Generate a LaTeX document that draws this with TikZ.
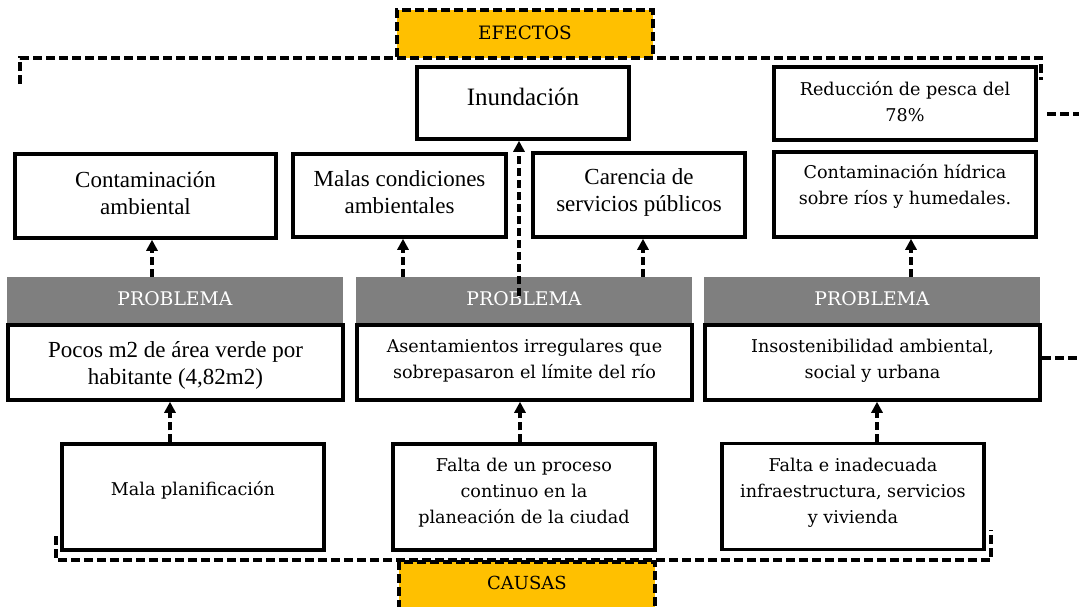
\documentclass[tikz,border=0pt]{standalone}
\usepackage{fontspec}
\setmainfont{Liberation Serif}
\newfontfamily\cmbfont{DejaVu Serif}
\usetikzlibrary{arrows.meta}
\definecolor{ambar}{HTML}{FFC000}
\definecolor{gris}{HTML}{7F7F7F}
\begin{document}
\begin{tikzpicture}[x=1pt,y=-1pt,
 box/.style={draw=black, line width=3.5pt, fill=white, inner sep=0pt},
 bar/.style={fill=gris, draw=none, inner sep=0pt},
 tag/.style={fill=ambar, draw=black, line width=3.2pt, dash pattern=on 9pt off 4pt, inner sep=0pt},
 dline/.style={line width=3.2pt, dash pattern=on 9pt off 4pt},
 arr/.style={line width=3.2pt, dash pattern=on 8pt off 4pt, -{Triangle[width=11pt,length=11pt]}},
 tms/.style={font=\fontsize{23}{27}\selectfont, align=center, inner sep=0pt},
 cmb/.style={font=\cmbfont\fontsize{17.6}{26}\selectfont, align=center, inner sep=0pt},
 ptxt/.style={font=\cmbfont\fontsize{18.8}{26}\selectfont, text=white, inner sep=0pt},
]
\useasboundingbox (0,0) rectangle (1079,606);
\fill[white] (0,0) rectangle (1079,606);

% ---- top frame and EFECTOS
\coordinate (tl) at (20,84);
\coordinate (tr) at (1041,80);
\draw[dline] (tl) -- (20,58) -- (1041,58) -- (tr);
\node[tag, minimum width=256pt, minimum height=48pt] (efectos) at (525,34) {};
\node[cmb, font=\cmbfont\fontsize{18.4}{26}\selectfont] (efectost) at (525,33) {EFECTOS};

% ---- effect boxes
\node[box, minimum width=212pt, minimum height=72pt] (inun) at (523,103) {};
\node[tms, font=\fontsize{25}{29}\selectfont] (inunt) at (523,97) {Inundación};

\node[box, minimum width=262pt, minimum height=73pt] (pesca) at (905,103.5) {};
\node[cmb] (pescat) at (905,102) {Reducción de pesca del\\78\%};

\node[box, minimum width=261pt, minimum height=84pt] (ca) at (145.5,196) {};
\node[tms] (cat) at (145.5,193) {Contaminación\\ambiental};

\node[box, minimum width=213pt, minimum height=83pt] (mc) at (399.5,195.5) {};
\node[tms] (mct) at (399.5,192) {Malas condiciones\\ambientales};

\node[box, minimum width=212pt, minimum height=84pt] (cs) at (639,195) {};
\node[tms] (cst) at (639,192) {Carencia de\\servicios públicos};

\node[box, minimum width=262pt, minimum height=85pt] (ch) at (905,194.5) {};
\node[cmb] (cht) at (905,186.5) {Contaminación hídrica\\sobre ríos y humedales.};

% ---- problem bars
\node[bar, minimum width=336pt, minimum height=46pt] (p1bar) at (175,300) {};
\node[bar, minimum width=336pt, minimum height=46pt] (p2bar) at (524,300) {};
\node[bar, minimum width=336pt, minimum height=46pt] (p3bar) at (872,300) {};
\node[ptxt] (p1t) at (175,299) {PROBLEMA};
\node[ptxt] (p2t) at (524,299) {PROBLEMA};
\node[ptxt] (p3t) at (872,299) {PROBLEMA};

% ---- problem boxes
\node[box, minimum width=335pt, minimum height=75pt] (p1box) at (175.5,362.5) {};
\node[tms] (p1bt) at (175.5,365) {Pocos m2 de área verde por\\habitante (4,82m2)};
\node[box, minimum width=335pt, minimum height=75pt] (p2box) at (524.5,362.5) {};
\node[cmb] (p2bt) at (524.5,360.5) {Asentamientos irregulares que\\sobrepasaron el límite del río};
\node[box, minimum width=335pt, minimum height=75pt] (p3box) at (872.5,362.5) {};
\node[cmb] (p3bt) at (872.5,361) {Insostenibilidad ambiental,\\social y urbana};

% ---- cause boxes
\node[box, minimum width=262pt, minimum height=106pt] (c1) at (193,497) {};
\node[cmb] (c1t) at (193,490) {Mala planificación};
\node[box, minimum width=262pt, minimum height=106pt] (c2) at (524,497) {};
\node[cmb] (c2t) at (524,493) {Falta de un proceso\\continuo en la\\planeación de la ciudad};
\node[box, minimum width=262pt, minimum height=106pt] (c3) at (853,496.5) {};
\node[cmb] (c3t) at (853,492.5) {Falta e inadecuada\\infraestructura, servicios\\y vivienda};

% ---- bottom frame and CAUSAS
\coordinate (bl) at (56,536);
\coordinate (br) at (991,530);
\draw[dline] (bl) -- (56,560) -- (991,560) -- (br);
\node[tag, minimum width=256pt, minimum height=48pt] (causas) at (527,586) {};
\node[cmb, font=\cmbfont\fontsize{18}{26}\selectfont] (causast) at (527,583) {CAUSAS};

% ---- side dashes
\coordinate (r1a) at (1047,114);
\coordinate (r1b) at (1079,114);
\draw[dline] (r1a) -- (r1b);
\coordinate (r2) at (1079,358);
\draw[dline] (p3box.east |- r2) -- (r2);

% ---- effect arrows
\coordinate (xa) at (152,0);
\coordinate (xb) at (403,0);
\coordinate (xc) at (643,0);
\coordinate (xd) at (911,0);
\draw[arr] (p1bar.north -| xa) -- (ca.south -| xa);
\draw[arr] (p2bar.north -| xb) -- (mc.south -| xb);
\draw[arr] (p2bar.north -| xc) -- (cs.south -| xc);
\draw[arr] (p3bar.north -| xd) -- (ch.south -| xd);
\coordinate (ia) at (519,296);
\draw[arr] (ia) -- (inun.south -| ia);

% ---- cause arrows
\coordinate (ya) at (170,0);
\coordinate (yb) at (520,0);
\coordinate (yc) at (877,0);
\draw[arr] (c1.north -| ya) -- (p1box.south -| ya);
\draw[arr] (c2.north -| yb) -- (p2box.south -| yb);
\draw[arr] (c3.north -| yc) -- (p3box.south -| yc);
\end{tikzpicture}
\end{document}
